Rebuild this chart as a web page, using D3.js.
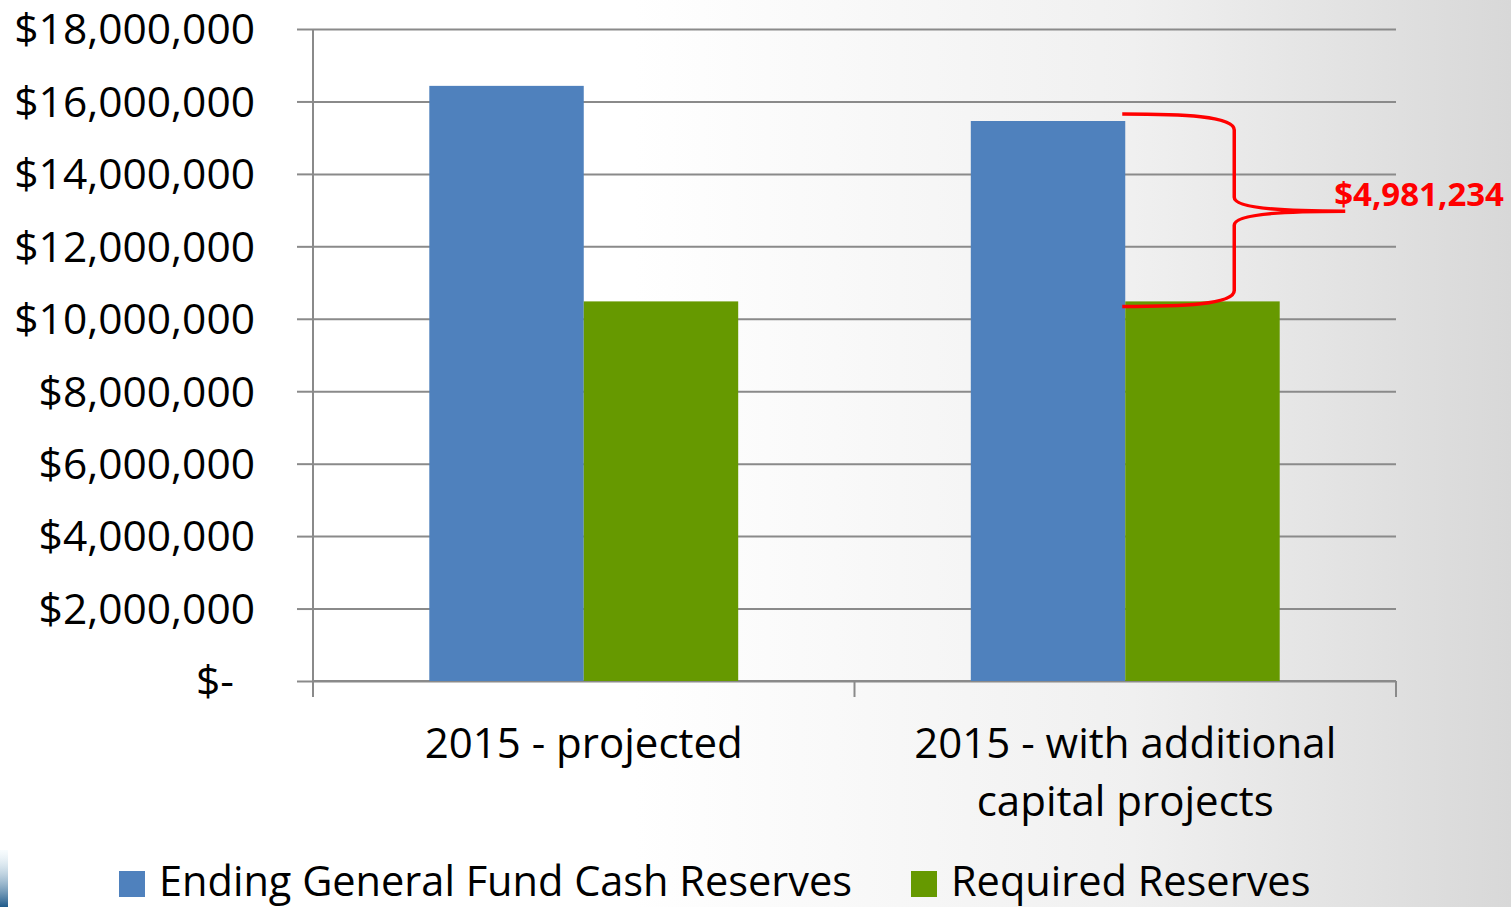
<!DOCTYPE html>
<html>
<head>
<meta charset="utf-8">
<script src="https://cdn.jsdelivr.net/npm/d3@7"></script>
<style>
  html, body { margin: 0; padding: 0; background: #fff; }
  svg { display: block; font-family: "Open Sans", Lato, sans-serif; }
</style>
</head>
<body>
<div id="chart-area"></div>
<script>
let blue = "#4F81BD";
let green = "#669900";
let gridGray = "#8a8a8a";
let braceRed = "#ff0000";

// data
const categories = ["2015 - projected", "2015 - with additional capital projects"];
const categoryLines = [["2015 - projected"], ["2015 - with additional", "capital projects"]];
const seriesNames = ["Ending General Fund Cash Reserves", "Required Reserves"];
const endingReserves = [16430000, 15460000];
const requiredReserves = [10480000, 10480000];
const yTicks = [0, 2000000, 4000000, 6000000, 8000000, 10000000, 12000000, 14000000, 16000000, 18000000];
const gapLabel = "$4,981,234";

const width = 1511;
const height = 907;

const margin = { top: 29, right: 115, bottom: 226, left: 313 };

const svg = d3.select("#chart-area")
  .append("svg")
  .attr("width", width)
  .attr("height", height);

// background gradient, white on the left fading to gray
const defs = svg.append("defs");
const bg = defs.append("linearGradient").attr("id", "bg").attr("x1", 0).attr("x2", 1).attr("y1", 0).attr("y2", 0);
bg.append("stop").attr("offset", "0%").attr("stop-color", "#ffffff");
bg.append("stop").attr("offset", "42%").attr("stop-color", "#ffffff");
bg.append("stop").attr("offset", "75%").attr("stop-color", "#f0f0f0");
bg.append("stop").attr("offset", "100%").attr("stop-color", "#d8d8d8");
svg.append("rect").attr("width", width).attr("height", height).attr("fill", "url(#bg)");

const corner = defs.append("linearGradient").attr("id", "corner").attr("x1", 0).attr("x2", 0).attr("y1", 0).attr("y2", 1);
corner.append("stop").attr("offset", "0%").attr("stop-color", "#e8f6fb").attr("stop-opacity", 0.3);
corner.append("stop").attr("offset", "100%").attr("stop-color", "#1f5a8a");
svg.append("rect").attr("x", 0).attr("y", 850).attr("width", 8).attr("height", 57).attr("fill", "url(#corner)");

const x0 = d3.scaleBand()
  .domain(categories)
  .range([margin.left, width - margin.right])
  .padding(0);

const x1 = d3.scaleBand()
  .domain(seriesNames)
  .range([0, x0.bandwidth()])
  .paddingInner(0)
  .paddingOuter(0.753);

const y = d3.scaleLinear()
  .domain([0, 18000000])
  .range([height - margin.bottom, margin.top]);

const color = d3.scaleOrdinal().domain(seriesNames).range([blue, green]);

// gridlines + y axis
const yAxis = d3.axisLeft(y)
  .tickValues(yTicks)
  .tickSize(16)
  .tickPadding(42)
  .tickFormat((d) => (d === 0 ? "$-" : "$" + d3.format(",")(d)));

const gy = svg.append("g")
  .attr("transform", `translate(${margin.left},0)`)
  .call(yAxis)
  .attr("font-family", null)
  .attr("font-size", null);

gy.select(".domain").attr("stroke", gridGray).attr("stroke-width", 2).attr("d", `M0,${y(0)}V${y(18000000)}`);
gy.selectAll(".tick line").attr("stroke", gridGray).attr("stroke-width", 2);
gy.selectAll(".tick text")
  .attr("fill", "#000")
  .style("font-size", "42.5px")
  .attr("dy", "0.35em")
  .attr("dx", (d) => (d === 0 ? -21 : 0));

gy.selectAll(".tick")
  .append("line")
  .attr("x1", 0)
  .attr("x2", width - margin.right - margin.left)
  .attr("stroke", gridGray)
  .attr("stroke-width", 2);

// x axis line & ticks
const xEdges = [margin.left, margin.left + x0.bandwidth(), width - margin.right];
svg.append("line")
  .attr("x1", margin.left)
  .attr("x2", width - margin.right)
  .attr("y1", y(0))
  .attr("y2", y(0))
  .attr("stroke", gridGray)
  .attr("stroke-width", 2);
svg.selectAll(".xtick")
  .data(xEdges)
  .enter()
  .append("line")
  .attr("class", "xtick")
  .attr("x1", (d) => d)
  .attr("x2", (d) => d)
  .attr("y1", y(0))
  .attr("y2", y(0) + 16)
  .attr("stroke", gridGray)
  .attr("stroke-width", 2);

// bars
const barData = [];
categories.forEach((c, i) => {
  barData.push({ cat: c, series: seriesNames[0], value: endingReserves[i] });
  barData.push({ cat: c, series: seriesNames[1], value: requiredReserves[i] });
});

svg.selectAll(".bar")
  .data(barData)
  .enter()
  .append("rect")
  .attr("class", "bar")
  .attr("x", (d) => x0(d.cat) + x1(d.series))
  .attr("width", x1.bandwidth())
  .attr("y", (d) => y(d.value))
  .attr("height", (d) => y(0) - y(d.value))
  .attr("fill", (d) => color(d.series));

// category labels
categories.forEach((c, i) => {
  const t = svg.append("text")
    .attr("x", x0(c) + x0.bandwidth() / 2)
    .attr("y", 758)
    .attr("text-anchor", "middle")
    .style("font-size", "42px")
    .attr("fill", "#000");
  categoryLines[i].forEach((line, j) => {
    t.append("tspan")
      .attr("x", x0(c) + x0.bandwidth() / 2)
      .attr("dy", j === 0 ? 0 : 58)
      .text(line);
  });
});

// brace between the second category's bars
const bx = x0(categories[1]) + x1(seriesNames[1]) - 3;
const braceTop = y(endingReserves[1]) - 7;
const braceBot = y(requiredReserves[1]) + 5;
const braceMid = (braceTop + braceBot) / 2 + 1;
const vx = bx + 112;
const tipX = bx + 223;
const bracePath = `M${bx},${braceTop}
  C${bx + 60},${braceTop} ${vx},${braceTop + 2} ${vx},${braceTop + 16}
  L${vx},${braceMid - 14}
  C${vx},${braceMid - 2} ${vx + 60},${braceMid} ${tipX},${braceMid}
  C${vx + 60},${braceMid} ${vx},${braceMid + 2} ${vx},${braceMid + 14}
  L${vx},${braceBot - 16}
  C${vx},${braceBot - 2} ${bx + 60},${braceBot} ${bx},${braceBot}`;
svg.append("path")
  .attr("d", bracePath)
  .attr("fill", "none")
  .attr("stroke", braceRed)
  .attr("stroke-width", 3.5);

svg.append("text")
  .attr("x", 1504)
  .attr("y", 206)
  .attr("text-anchor", "end")
  .attr("fill", braceRed)
  .style("font-size", "33px")
  .style("font-weight", "bold")
  .text(gapLabel);

// legend
const legendX = [119, 911];
const legend = svg.selectAll(".legend")
  .data(seriesNames)
  .enter()
  .append("g")
  .attr("class", "legend")
  .attr("transform", (d, i) => `translate(${legendX[i]},871)`);
legend.append("rect")
  .attr("width", 26)
  .attr("height", 26)
  .attr("fill", (d) => color(d));
legend.append("text")
  .attr("x", 40)
  .attr("y", 25)
  .style("font-size", "41.5px")
  .attr("fill", "#000")
  .text((d) => d);
</script>
</body>
</html>
